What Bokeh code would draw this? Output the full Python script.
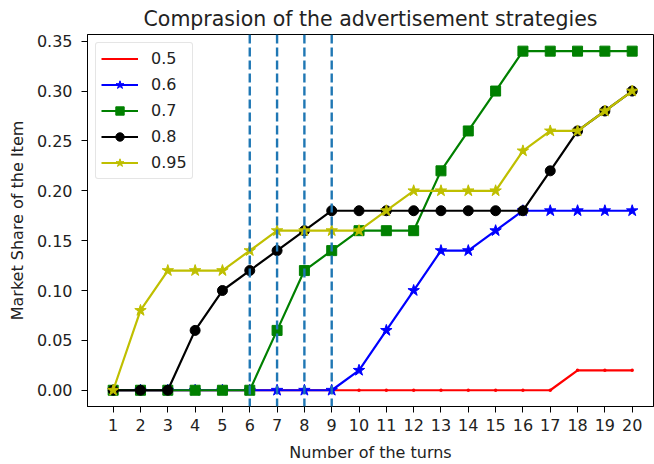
from bokeh.plotting import figure
from bokeh.models import Range1d, FixedTicker, PrintfTickFormatter, Span
from bokeh.embed import file_html
from bokeh.resources import INLINE

turns = [1, 2, 3, 4, 5, 6, 7, 8, 9, 10, 11, 12, 13, 14, 15, 16, 17, 18, 19, 20]
share_050 = [0.00, 0.00, 0.00, 0.00, 0.00, 0.00, 0.00, 0.00, 0.00, 0.00,
             0.00, 0.00, 0.00, 0.00, 0.00, 0.00, 0.00, 0.02, 0.02, 0.02]
share_060 = [0.00, 0.00, 0.00, 0.00, 0.00, 0.00, 0.00, 0.00, 0.00, 0.02,
             0.06, 0.10, 0.14, 0.14, 0.16, 0.18, 0.18, 0.18, 0.18, 0.18]
share_070 = [0.00, 0.00, 0.00, 0.00, 0.00, 0.00, 0.06, 0.12, 0.14, 0.16,
             0.16, 0.16, 0.22, 0.26, 0.30, 0.34, 0.34, 0.34, 0.34, 0.34]
share_080 = [0.00, 0.00, 0.00, 0.06, 0.10, 0.12, 0.14, 0.16, 0.18, 0.18,
             0.18, 0.18, 0.18, 0.18, 0.18, 0.18, 0.22, 0.26, 0.28, 0.30]
share_095 = [0.00, 0.08, 0.12, 0.12, 0.12, 0.14, 0.16, 0.16, 0.16, 0.16,
             0.18, 0.20, 0.20, 0.20, 0.20, 0.24, 0.26, 0.26, 0.28, 0.30]
series_labels = ["0.5", "0.6", "0.7", "0.8", "0.95"]
y_ticks = [0.00, 0.05, 0.10, 0.15, 0.20, 0.25, 0.30, 0.35]
vline_turns = [6, 7, 8, 9]

FONT = "DejaVu Sans"

p = figure(width=654, height=464, output_backend="svg", toolbar_location=None,
           x_range=Range1d(0.06, 20.78), y_range=Range1d(-0.0163, 0.3567),
           min_border_left=87, min_border_right=1, min_border_top=34,
           min_border_bottom=57, title="Comprasion of the advertisement strategies")

p.title.text_font = FONT
p.title.text_font_size = "20.5px"
p.title.text_font_style = "normal"
p.title.align = "center"
p.title.text_color = "#222222"
p.title.standoff = 7

p.grid.visible = False
p.outline_line_color = "black"
p.outline_line_width = 1
p.outline_line_alpha = 1

styles = [
    (share_050, "#ff0000", "dot", 14),
    (share_060, "#0000ff", "star", 12),
    (share_070, "#008000", "square", 10),
    (share_080, "#000000", "circle", 10),
    (share_095, "#bfbf00", "star", 12),
]
for (vals, color, marker, size), lab in zip(styles, series_labels):
    p.line(turns, vals, line_color=color, line_width=2.2, legend_label=lab)
    p.scatter(turns, vals, marker=marker, size=size, fill_color=color,
              line_color=color, line_width=1, legend_label=lab)

for t in vline_turns:
    p.add_layout(Span(location=t, dimension="height", line_color="#1f77b4",
                      line_width=2.4, line_dash="9 4"))

p.xaxis.ticker = FixedTicker(ticks=turns)
p.yaxis.ticker = FixedTicker(ticks=y_ticks)
p.yaxis.formatter = PrintfTickFormatter(format="%.2f")
for ax in (p.xaxis, p.yaxis):
    ax.major_tick_out = 6
    ax.major_tick_in = 0
    ax.minor_tick_out = 0
    ax.minor_tick_in = 0
    ax.axis_line_color = "black"
    ax.major_tick_line_color = "black"
    ax.major_label_text_font = FONT
    ax.major_label_text_font_size = "16px"
    ax.major_label_text_color = "#222222"
    ax.axis_label_text_font = FONT
    ax.axis_label_text_font_size = "16px"
    ax.axis_label_text_font_style = "normal"
    ax.axis_label_text_color = "#222222"
p.xaxis.axis_label = "Number of the turns"
p.yaxis.axis_label = "Market Share of the Item"
p.xaxis.major_label_standoff = 6
p.yaxis.major_label_standoff = 9
p.xaxis.axis_label_standoff = 9
p.yaxis.axis_label_standoff = 7

leg = p.legend[0]
leg.location = "top_left"
leg.margin = 8
leg.padding = 5
leg.spacing = 5
leg.glyph_width = 37
leg.glyph_height = 21
leg.label_height = 21
leg.label_standoff = 13
leg.label_text_font = FONT
leg.label_text_font_size = "16px"
leg.label_text_color = "#222222"
leg.border_line_color = "#cccccc"
leg.border_line_width = 1
leg.border_radius = 3
leg.background_fill_alpha = 0.8

open("out.html", "w").write(file_html(p, INLINE))
